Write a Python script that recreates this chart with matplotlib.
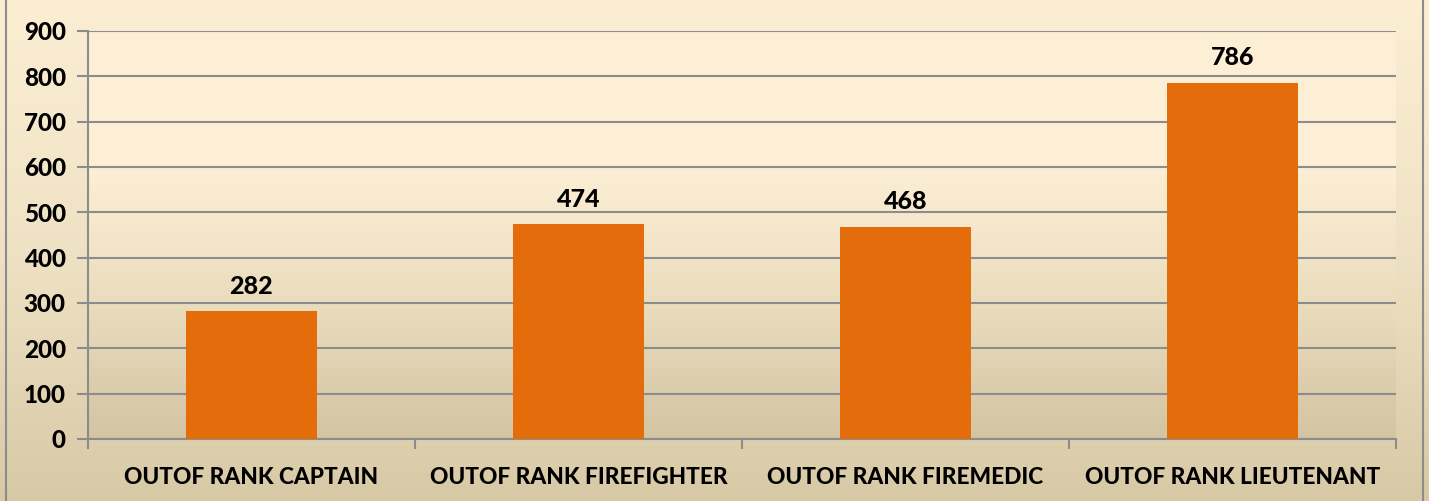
import matplotlib
matplotlib.use("Agg")
import matplotlib.pyplot as plt
import numpy as np
from matplotlib.colors import LinearSegmentedColormap
from matplotlib.patches import Rectangle

categories = ["OUTOF RANK CAPTAIN", "OUTOF RANK FIREFIGHTER", "OUTOF RANK FIREMEDIC", "OUTOF RANK LIEUTENANT"]
values = [282, 474, 468, 786]
yticks = [0, 100, 200, 300, 400, 500, 600, 700, 800, 900]

W, H = 1429, 501
fig = plt.figure(figsize=(W / 100, H / 100), dpi=100)

# figure background gradient
bg = fig.add_axes([0, 0, 1, 1], zorder=-10)
grad_cmap = LinearSegmentedColormap.from_list("g", ["#D8C9A6", "#EFE2C4", "#FCEED3"])
bg.imshow(np.linspace(0, 1, 256).reshape(-1, 1), aspect="auto", cmap=grad_cmap,
          extent=[0, 1, 0, 1], origin="lower")
bg.set_xlim(0, 1); bg.set_ylim(0, 1)
bg.axis("off")
bg.add_patch(Rectangle((6 / W, -0.01), (1423 - 6) / W, 1.02, fill=False,
                       edgecolor="#8C8C8C", linewidth=1.5, transform=bg.transAxes))

left, right, top, bottom = 88, 1396, 31, 439
ax = fig.add_axes([left / W, 1 - bottom / H, (right - left) / W, (bottom - top) / H])
ax.patch.set_alpha(0)
plot_cmap = LinearSegmentedColormap.from_list("p", ["#D3C4A2", "#EADDBE", "#FCEFD5", "#FDF0D7"])
ax.imshow(np.linspace(0, 1, 256).reshape(-1, 1), aspect="auto", cmap=plot_cmap,
          extent=[-0.5, 3.5, 0, 900], origin="lower", zorder=0)

font = "Lato"
x = np.arange(len(categories))
ax.bar(x, values, width=0.4, color="#E46C0A", zorder=3)
for xi, v in zip(x, values):
    ax.text(xi, v + 30, str(v), ha="center", va="bottom", fontsize=18,
            fontweight="black", family=font, color="black")

ax.set_xlim(-0.5, 3.5)
ax.set_ylim(0, 900)
ax.set_yticks(yticks)
ax.set_yticklabels([str(t) for t in yticks], fontsize=17.5, fontweight="black", family=font)
ax.yaxis.grid(True, color="#8C8C8C", linewidth=1.5, zorder=1)
ax.set_axisbelow(True)

ax.set_xticks(x)
ax.set_xticklabels(categories, fontsize=16.3, fontweight="black", family=font)
ax.tick_params(axis="x", length=0, pad=20)
ax.set_xticks([-0.5, 0.5, 1.5, 2.5, 3.5], minor=True)
ax.tick_params(axis="x", which="minor", length=7, color="#8C8C8C", width=1.5)
ax.tick_params(axis="y", length=8, color="#8C8C8C", width=1.5, pad=8)

for s in ["top", "right"]:
    ax.spines[s].set_visible(False)
for s in ["left", "bottom"]:
    ax.spines[s].set_color("#8C8C8C")
    ax.spines[s].set_linewidth(1.5)

fig.savefig("out.png", dpi=100)
